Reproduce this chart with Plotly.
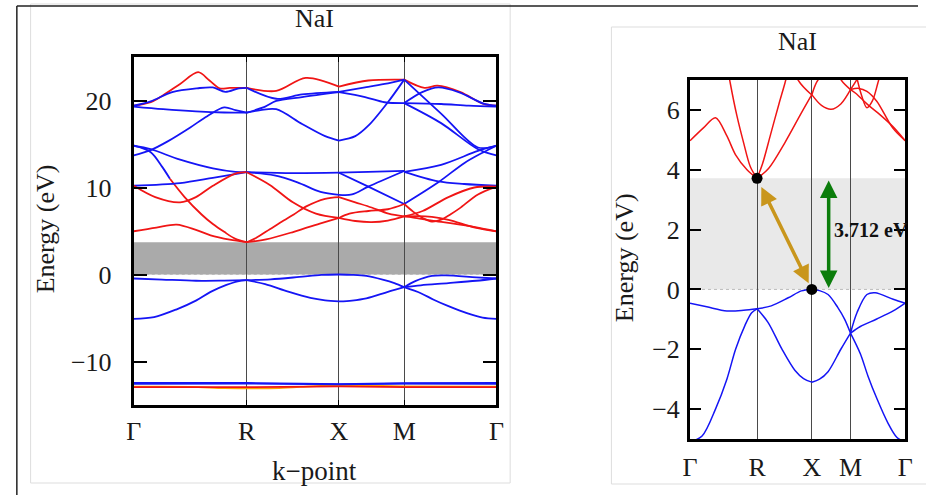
import plotly.graph_objects as go

# ---------------- data ----------------
K_LABELS = ["Γ", "R", "X", "M", "Γ"]
K_SYM = [0.0, 0.866, 1.573, 2.073, 2.780]   # path distance of high-symmetry points

GAP_EV = 3.712
VBM_EV = 0.0
CBM_EV = 3.712

# each band piece: (colour key, fractions along segment, energies in eV)
GR_BANDS = [  # Gamma -> R
    ("o", [0, 0.5, 0.8, 1], [-12.9, -12.92, -13.07, -13.08]),
    ("r", [0, 1], [-12.95, -12.95]),
    ("b", [0, 1], [-12.47, -12.47]),
    ("b", [0, 1], [-12.56, -12.53]),
    ("r", [0, 0.15, 0.26, 0.41, 0.57, 0.67, 0.76, 0.85, 1], [19.4, 19.8, 20.6, 21.9, 23.25, 22.3, 21.4, 21.45, 21.45]),
    ("b", [0, 0.15, 0.34, 0.56, 0.70, 0.81, 0.93, 1], [19.4, 19.9, 20.96, 21.4, 21.5, 21.0, 21.4, 21.45]),
    ("b", [0, 0.26, 0.55, 0.8, 1], [19.3, 19.0, 18.75, 18.62, 18.6]),
    ("b", [0, 0.15, 0.3, 0.5, 0.65, 0.8, 0.9, 1], [13.7, 14.3, 15.3, 16.9, 18.2, 19.2, 18.9, 18.6]),
    ("b", [0, 0.15, 0.41, 0.7, 0.9, 1], [14.8, 14.4, 13.2, 12.2, 11.8, 11.76]),
    ("b", [0, 0.15, 0.25, 0.32], [14.8, 14.06, 12.4, 11.0]),
    ("r", [0.32, 0.45, 0.6, 0.7, 0.8, 0.9, 1], [11.0, 8.9, 6.9, 5.8, 4.9, 4.1, 3.712]),
    ("b", [0, 0.41, 0.7, 1], [10.2, 10.5, 11.1, 11.76]),
    ("r", [0, 0.19, 0.41, 0.55, 0.7, 0.9, 1], [10.2, 8.9, 8.3, 8.9, 10.2, 11.6, 11.76]),
    ("r", [0, 0.2, 0.38, 0.55, 0.68, 0.85, 1], [4.97, 5.4, 5.74, 5.13, 4.5, 4.0, 3.712]),
    ("b", [0, 0.25, 0.55, 0.8, 1], [-0.46, -0.58, -0.72, -0.7, -0.65]),
    ("b", [0, 0.18, 0.38, 0.55, 0.68, 0.82, 0.92, 1], [-5.1, -4.9, -4.0, -3.0, -2.0, -1.2, -0.78, -0.65]),
]

RX_BANDS = [  # R -> X
    ("o", [0, 0.35, 0.7, 1], [-13.08, -13.05, -12.85, -12.7]),
    ("r", [0, 1], [-12.95, -12.85]),
    ("b", [0, 0.6, 1], [-12.47, -12.55, -12.6]),
    ("b", [0, 1], [-12.53, -12.62]),
    ("r", [0, 0.32, 0.64, 1], [21.45, 21.1, 22.6, 21.6]),
    ("b", [0, 0.32, 0.6, 1], [21.45, 20.2, 20.7, 21.0]),
    ("b", [0, 0.2, 0.32, 0.6, 1], [18.6, 19.3, 19.95, 20.4, 20.96]),
    ("b", [0, 0.15, 0.32, 0.6, 0.85, 1], [18.6, 18.9, 19.0, 17.3, 15.9, 15.4]),
    ("b", [0, 0.5, 1], [11.76, 11.65, 11.7]),
    ("b", [0, 0.3, 0.55, 0.8, 1], [11.76, 11.4, 10.6, 9.5, 9.16]),
    ("r", [0, 0.25, 0.5, 0.75, 1], [11.76, 10.3, 8.3, 7.0, 6.5]),
    ("r", [0, 0.1, 0.25, 0.4, 0.51, 0.64, 0.85, 1], [3.712, 4.2, 5.2, 6.2, 6.9, 7.8, 8.7, 8.9]),
    ("r", [0, 0.21, 0.51, 0.81, 1], [3.712, 4.04, 4.91, 5.9, 6.51]),
    ("b", [0, 0.26, 0.57, 0.81, 1], [-0.65, -0.55, -0.28, -0.05, 0.0]),
    ("b", [0, 0.2, 0.45, 0.69, 0.85, 1], [-0.65, -1.1, -1.98, -2.7, -2.98, -3.1]),
]

XM_BANDS = [  # X -> M
    ("o", [0, 1], [-12.7, -12.85]),
    ("r", [0, 1], [-12.85, -12.95]),
    ("b", [0, 1], [-12.6, -12.5]),
    ("b", [0, 1], [-12.62, -12.55]),
    ("r", [0, 0.45, 1], [21.6, 22.3, 22.4]),
    ("b", [0, 0.4, 0.7, 1], [21.0, 21.5, 21.9, 22.4]),
    ("b", [0, 0.4, 0.7, 1], [20.96, 20.4, 19.8, 19.7]),
    ("b", [0, 0.25, 0.45, 0.75, 1], [15.4, 15.9, 17.1, 19.8, 22.4]),
    ("b", [0, 0.45, 1], [11.7, 11.8, 11.9]),
    ("b", [0, 0.45, 1], [11.7, 10.1, 8.1]),
    ("b", [0, 0.2, 0.45, 1], [9.16, 9.2, 10.1, 11.9]),
    ("r", [0, 0.25, 0.5, 0.76, 1], [8.9, 8.3, 7.7, 7.0, 6.68]),
    ("r", [0, 0.16, 0.45, 0.75, 1], [6.5, 7.0, 7.3, 7.5, 8.1]),
    ("r", [0, 0.25, 0.5, 0.75, 1], [6.51, 6.15, 6.02, 6.2, 6.68]),
    ("b", [0, 0.2, 0.42, 0.67, 0.85, 1], [0.0, -0.04, -0.17, -0.6, -1.0, -1.46]),
    ("b", [0, 0.2, 0.42, 0.75, 1], [-3.1, -3.0, -2.75, -2.0, -1.46]),
]

MG_BANDS = [  # M -> Gamma
    ("o", [0, 1], [-12.85, -12.9]),
    ("r", [0, 1], [-12.95, -12.95]),
    ("b", [0, 1], [-12.5, -12.47]),
    ("b", [0, 1], [-12.55, -12.56]),
    ("r", [0, 0.22, 0.36, 0.61, 0.86, 1], [22.4, 21.45, 21.7, 20.96, 19.6, 19.4]),
    ("b", [0, 0.195, 0.37, 0.59, 0.87, 1], [19.7, 20.96, 21.5, 20.96, 19.6, 19.4]),
    ("b", [0, 0.4, 0.7, 1], [19.7, 19.6, 19.4, 19.3]),
    ("b", [0, 0.4, 0.8, 1], [22.4, 18.5, 14.6, 14.8]),
    ("b", [0, 0.4, 0.8, 1], [19.7, 17.4, 14.4, 13.7]),
    ("b", [0, 0.4, 0.8, 1], [11.8, 12.6, 14.2, 14.8]),
    ("b", [0, 0.37, 0.65, 0.85, 1], [8.1, 10.6, 12.8, 14.0, 14.8]),
    ("b", [0, 0.37, 0.65, 1], [11.8, 10.7, 10.4, 10.2]),
    ("r", [0, 0.15, 0.3, 0.48, 0.77, 1], [6.68, 6.72, 6.62, 6.29, 5.4, 4.97]),
    ("r", [0, 0.1, 0.3, 0.5, 0.77, 1], [6.68, 6.55, 6.2, 5.9, 5.45, 4.97]),
    ("r", [0, 0.1, 0.2, 0.3, 0.4, 0.5, 0.6, 0.8, 1], [8.1, 7.2, 6.5, 6.07, 6.3, 6.9, 7.6, 9.2, 10.1]),
    ("r", [0, 0.2, 0.48, 0.76, 1], [6.68, 7.3, 8.9, 10.0, 10.1]),
    ("b", [0, 0.12, 0.3, 0.45, 0.78, 1], [-1.46, -0.77, -0.17, -0.11, -0.33, -0.46]),
    ("b", [0, 0.18, 0.48, 0.78, 1], [-1.46, -1.24, -0.99, -0.72, -0.46]),
    ("b", [0, 0.18, 0.32, 0.48, 0.68, 0.85, 1], [-1.46, -2.15, -2.9, -3.64, -4.45, -4.95, -5.1]),
]

LEFT_YTICKS = [-10, 0, 10, 20]
RIGHT_YTICKS = [-4, -2, 0, 2, 4, 6]

# ---------------- styling ----------------
COLORS = {"b": "#1515f5", "r": "#f01515", "o": "#ffa500"}
FONT = "Liberation Serif"
TXT_COLOR = "#1a1a1a"
W, H = 926, 495


def px(x):
    return x / W


def py(y):
    return 1 - y / H


fig = go.Figure()

segments = [GR_BANDS, RX_BANDS, XM_BANDS, MG_BANDS]
for xa, ya, lw in (("x", "y", 1.8), ("x2", "y2", 1.5)):
    for s, bands in enumerate(segments):
        k0, k1 = K_SYM[s], K_SYM[s + 1]
        for ck, fr, en in bands:
            ks = [k0 + f * (k1 - k0) for f in fr]
            fig.add_trace(go.Scatter(
                x=ks, y=en, mode="lines", xaxis=xa, yaxis=ya,
                line=dict(color=COLORS[ck], width=lw, shape="spline", smoothing=0.9),
                hoverinfo="skip", showlegend=False))

# marker dots (right panel)
fig.add_trace(go.Scatter(
    x=[K_SYM[1], K_SYM[2]], y=[CBM_EV, VBM_EV], mode="markers", xaxis="x2", yaxis="y2",
    marker=dict(color="black", size=11), hoverinfo="skip", showlegend=False))

axis_common = dict(showline=True, linecolor="black", mirror="ticks", zeroline=False,
                   tickfont=dict(family=FONT, size=26, color=TXT_COLOR))

fig.update_layout(
    width=W, height=H, margin=dict(l=0, r=0, t=0, b=0),
    paper_bgcolor="white", plot_bgcolor="white",
    xaxis=dict(domain=[px(128), px(497)], range=[K_SYM[0], K_SYM[-1]], anchor="y",
               tickvals=K_SYM, ticktext=K_LABELS, ticks="inside", ticklen=5, tickcolor="black",
               showgrid=True, gridcolor="#4a4a4a", gridwidth=1, linewidth=3,
               ticklabelstandoff=1, **axis_common),
    yaxis=dict(domain=[py(405), py(57)], range=[-15, 25], anchor="x",
               tickvals=LEFT_YTICKS, ticks="inside", ticklen=13, tickcolor="black", tickwidth=1.5,
               showgrid=False, linewidth=3, ticklabelstandoff=14, **axis_common),
    xaxis2=dict(domain=[px(694), px(913)], range=[K_SYM[0], K_SYM[-1]], anchor="y2",
                tickvals=K_SYM, ticktext=K_LABELS, ticks="", showgrid=True,
                gridcolor="#4a4a4a", gridwidth=1, linewidth=3, ticklabelstandoff=3, **axis_common),
    yaxis2=dict(domain=[py(439), py(80)], range=[-5, 7], anchor="x2",
                tickvals=RIGHT_YTICKS, ticks="inside", ticklen=11, tickcolor="black", tickwidth=1.5,
                showgrid=False, linewidth=3, ticklabelstandoff=2, **axis_common),
)

shapes = [
    # gap bands
    dict(type="rect", xref="x", yref="y", x0=K_SYM[0], x1=K_SYM[-1], y0=VBM_EV, y1=CBM_EV,
         fillcolor="#aaaaaa", line=dict(width=0), layer="below"),
    dict(type="line", xref="x", yref="y", x0=K_SYM[0], x1=K_SYM[-1], y0=0, y1=0,
         line=dict(color="#bbbbbb", width=1, dash="dot"), layer="below"),
    dict(type="rect", xref="x2", yref="y2", x0=K_SYM[0], x1=K_SYM[-1], y0=VBM_EV, y1=CBM_EV,
         fillcolor="#e9e9e9", line=dict(width=0), layer="below"),
    dict(type="line", xref="x2", yref="y2", x0=K_SYM[0], x1=K_SYM[-1], y0=0, y1=0,
         line=dict(color="#bbbbbb", width=1, dash="dot"), layer="below"),
    # light panel boxes
    dict(type="rect", xref="paper", yref="paper", x0=px(23), x1=px(511), y0=py(483), y1=py(4),
         line=dict(color="#dddddd", width=1), layer="below"),
    dict(type="rect", xref="paper", yref="paper", x0=px(614), x1=px(940), y0=py(484), y1=py(27),
         line=dict(color="#dddddd", width=1), layer="below"),
    # outer frame
    dict(type="line", xref="paper", yref="paper", x0=px(9), x1=1, y0=py(6), y1=py(6),
         line=dict(color="#222222", width=1.5)),
    dict(type="line", xref="paper", yref="paper", x0=px(9), x1=px(9), y0=0, y1=py(6),
         line=dict(color="#222222", width=1.5)),
]
fig.update_layout(shapes=shapes)

k_green = K_SYM[2] + 0.436 * (K_SYM[3] - K_SYM[2])
k_text = K_SYM[2] + 0.51 * (K_SYM[3] - K_SYM[2])

txt = dict(xref="paper", yref="paper", showarrow=False, xanchor="center", yanchor="middle")
ann = [
    dict(text="NaI", x=px(312), y=py(18), font=dict(family=FONT, size=26, color=TXT_COLOR), **txt),
    dict(text="NaI", x=px(803), y=py(42), font=dict(family=FONT, size=26, color=TXT_COLOR), **txt),
    dict(text="k−point", x=px(312), y=py(471), font=dict(family=FONT, size=27, color=TXT_COLOR), **txt),
    dict(text="Energy (eV)", x=px(38), y=py(229), textangle=-90,
         font=dict(family=FONT, size=26, color=TXT_COLOR), **txt),
    dict(text="Energy (eV)", x=px(627), y=py(258), textangle=-90,
         font=dict(family=FONT, size=26, color=TXT_COLOR), **txt),
    # indirect gap arrow
    dict(x=K_SYM[2], y=VBM_EV, ax=K_SYM[1], ay=CBM_EV, xref="x2", yref="y2", axref="x2", ayref="y2",
         text="", showarrow=True, arrowside="end+start", arrowhead=2, startarrowhead=2,
         arrowsize=1, startarrowsize=1, arrowwidth=3.5, arrowcolor="#c9961c",
         standoff=7, startstandoff=8),
    # green gap arrow
    dict(x=k_green, y=CBM_EV - 0.07, ax=k_green, ay=VBM_EV, xref="x2", yref="y2", axref="x2", ayref="y2",
         text="", showarrow=True, arrowside="end+start", arrowhead=2, startarrowhead=2,
         arrowsize=1, startarrowsize=1, arrowwidth=3.5, arrowcolor="#0b7d0b",
         standoff=0, startstandoff=0),
    dict(text="<b>%.3f eV</b>" % GAP_EV, x=k_text, y=2.0, xref="x2", yref="y2", showarrow=False,
         xanchor="left", yanchor="middle", font=dict(family=FONT, size=20, color="#111")),
]
fig.update_layout(annotations=ann)

fig.write_html("out.html")
